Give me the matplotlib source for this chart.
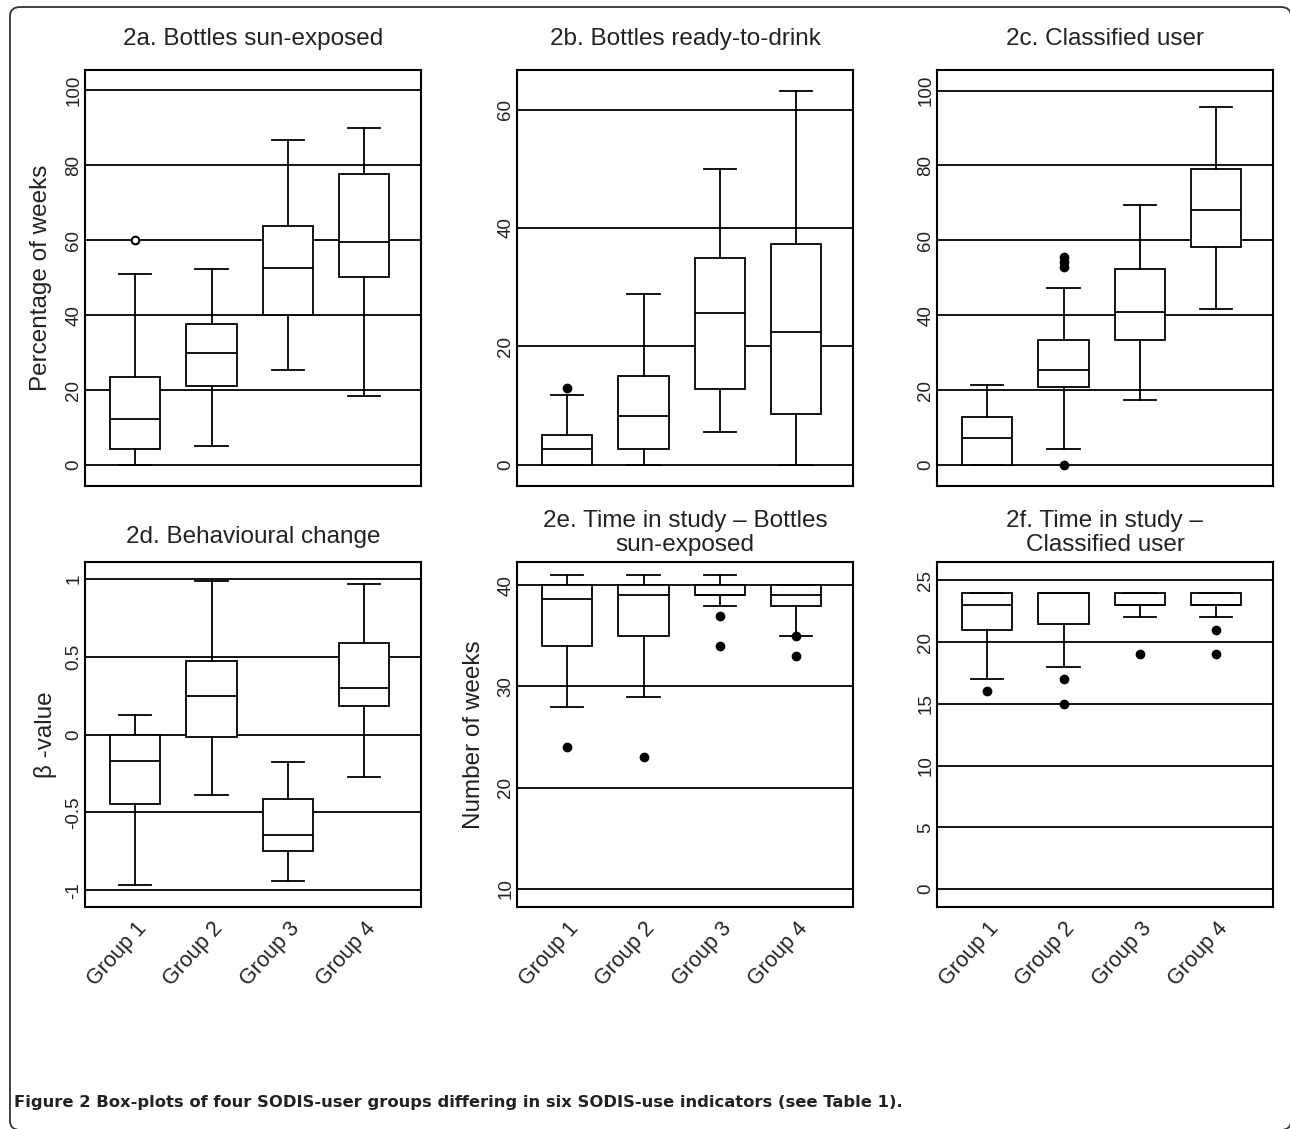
import numpy as np
import matplotlib.pyplot as plt
from matplotlib.patches import FancyBboxPatch

plt.rcParams['font.family'] = ['Liberation Sans', 'DejaVu Sans']
plt.rcParams['axes.unicode_minus'] = False

groups = ['Group 1', 'Group 2', 'Group 3', 'Group 4']

# 2a. Bottles sun-exposed (% of weeks)
a_lo = [0, 5.0, 25.4, 18.3]
a_q1 = [4.2, 21.0, 40.1, 50.1]
a_med = [12.4, 29.9, 52.5, 59.6]
a_q3 = [23.6, 37.5, 63.9, 77.6]
a_hi = [51.1, 52.4, 86.8, 89.9]
a_out = [[60.0], [], [], []]

# 2b. Bottles ready-to-drink
b_lo = [0, 0, 5.5, 0]
b_q1 = [0, 2.7, 12.8, 8.6]
b_med = [2.7, 8.2, 25.7, 22.5]
b_q3 = [5.0, 15.0, 34.9, 37.3]
b_hi = [11.7, 28.8, 49.9, 63.2]
b_out = [[12.9], [], [], []]

# 2c. Classified user
c_lo = [0, 4.2, 17.4, 41.6]
c_q1 = [0, 20.8, 33.5, 58.3]
c_med = [7.3, 25.4, 40.9, 68.1]
c_q3 = [12.9, 33.3, 52.3, 79.1]
c_hi = [21.5, 47.4, 69.5, 95.5]
c_out = [[], [0, 52.8, 54.2, 55.5], [], []]

# 2d. Behavioural change (beta-value)
d_lo = [-0.964, -0.388, -0.942, -0.275]
d_q1 = [-0.448, -0.016, -0.745, 0.183]
d_med = [-0.17, 0.249, -0.643, 0.30]
d_q3 = [0.0, 0.472, -0.412, 0.589]
d_hi = [0.123, 0.987, -0.176, 0.966]
d_out = [[], [], [], []]

# 2e. Time in study - bottles sun-exposed (weeks)
e_lo = [28, 29, 38, 35]
e_q1 = [34, 35, 39, 38]
e_med = [38.6, 39, 39, 39]
e_q3 = [40, 40, 40, 40]
e_hi = [41, 41, 41, 40]
e_out = [[24], [23], [37, 34], [35, 33]]

# 2f. Time in study - classified user (weeks)
f_lo = [17, 18, 22, 22]
f_q1 = [21, 21.5, 23, 23]
f_med = [23, 24, 23, 23]
f_q3 = [24, 24, 24, 24]
f_hi = [24, 24, 24, 24]
f_out = [[16], [17, 15], [19], [21, 19]]

titles = ['2a. Bottles sun-exposed', '2b. Bottles ready-to-drink',
          '2c. Classified user', '2d. Behavioural change',
          '2e. Time in study \u2013 Bottles\nsun-exposed',
          '2f. Time in study \u2013\nClassified user']
ylabels = ['Percentage of weeks', '', '', '\u03b2 -value', 'Number of weeks', '']
yticks = [[0, 20, 40, 60, 80, 100], [0, 20, 40, 60], [0, 20, 40, 60, 80, 100],
          [-1, -0.5, 0, 0.5, 1], [10, 20, 30, 40], [0, 5, 10, 15, 20, 25]]
ytlabels = [['0', '20', '40', '60', '80', '100'], ['0', '20', '40', '60'],
            ['0', '20', '40', '60', '80', '100'], ['-1', '-0.5', '0', '0.5', '1'],
            ['10', '20', '30', '40'], ['0', '5', '10', '15', '20', '25']]
ylims = [(-5.6, 105.4), (-3.6, 66.7), (-5.6, 105.5), (-1.107, 1.107), (8.2, 42.3), (-1.45, 26.48)]

panels = [(a_lo, a_q1, a_med, a_q3, a_hi, a_out),
          (b_lo, b_q1, b_med, b_q3, b_hi, b_out),
          (c_lo, c_q1, c_med, c_q3, c_hi, c_out),
          (d_lo, d_q1, d_med, d_q3, d_hi, d_out),
          (e_lo, e_q1, e_med, e_q3, e_hi, e_out),
          (f_lo, f_q1, f_med, f_q3, f_hi, f_out)]

W, H = 1290, 1129
fig = plt.figure(figsize=(W / 100, H / 100), dpi=100)

# rounded frame around everything (right and bottom edges run off the page)
frame = FancyBboxPatch((10 / W, 1 - 1130 / H), 1281 / W, 1123 / H,
                       boxstyle='round,pad=0,rounding_size=0.008',
                       transform=fig.transFigure, fill=False, ec='#333333', lw=1.3)
fig.patches.append(frame)

lefts = [85, 517, 937]
rows = [(70, 486), (562, 907)]
ylab_x = [-0.13, 0, 0, -0.118, -0.127, 0]

for i, (lo, q1, med, q3, hi, out) in enumerate(panels):
    r, c = divmod(i, 3)
    top, bot = rows[r]
    ax = fig.add_axes([lefts[c] / W, 1 - bot / H, 336 / W, (bot - top) / H])
    stats = [dict(med=med[k], q1=q1[k], q3=q3[k], whislo=lo[k], whishi=hi[k], fliers=out[k])
             for k in range(4)]
    mfc = 'white' if i == 0 else 'black'
    ax.bxp(stats, positions=[1, 2, 3, 4], widths=0.655, capwidths=0.42,
           patch_artist=True, manage_ticks=False,
           boxprops=dict(facecolor='white', edgecolor='black', lw=1.3),
           whiskerprops=dict(color='black', lw=1.3, linestyle='-'),
           capprops=dict(color='black', lw=1.3),
           medianprops=dict(color='black', lw=1.3),
           flierprops=dict(marker='o', markerfacecolor=mfc, markeredgecolor='black',
                           markeredgewidth=1.5, markersize=5.5, linestyle='none'))
    ax.set_xlim(0.345, 4.74)
    ax.set_ylim(*ylims[i])
    ax.set_yticks(yticks[i], ytlabels[i])
    ax.set_axisbelow(True)
    ax.grid(axis='y', color='black', lw=1.3)
    ax.tick_params(axis='y', length=0, pad=2, labelsize=13.5, labelrotation=90, colors='#222222')
    for lab in ax.get_yticklabels():
        lab.set_va('center')
    if r == 1:
        ax.set_xticks([1, 2, 3, 4], groups)
        ax.tick_params(axis='x', length=0, pad=8, labelsize=15.5, colors='#222222')
        for lab in ax.get_xticklabels():
            lab.set_rotation(48)
            lab.set_ha('right')
            lab.set_rotation_mode('anchor')
    else:
        ax.set_xticks([])
    for s in ax.spines.values():
        s.set_linewidth(1.5)
        s.set_color('black')
    if '\n' in titles[i]:
        pad = 8
    else:
        pad = 18 if r == 0 else 13.5
    ax.set_title(titles[i], fontsize=17.5, pad=pad, linespacing=1.12, color='#222222')
    if ylabels[i]:
        ax.set_ylabel(ylabels[i], fontsize=17.5, color='#222222', va='center')
        ax.yaxis.set_label_coords(ylab_x[i], 0.5)

fig.text(14 / W, 1 - 1107 / H,
         'Figure 2 Box-plots of four SODIS-user groups differing in six SODIS-use indicators (see Table 1).',
         fontsize=11.75, fontweight='bold', family=['DejaVu Sans'],
         va='baseline', ha='left', color='#222222')

fig.savefig('out.png', dpi=100)
